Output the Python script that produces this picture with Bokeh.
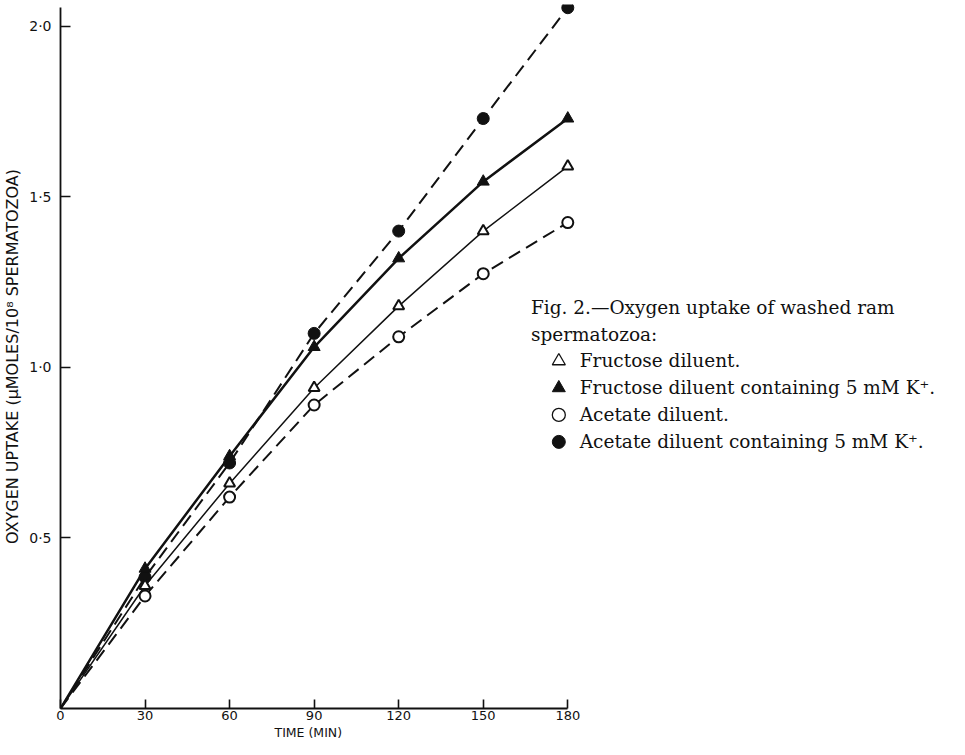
from bokeh.plotting import figure
from bokeh.models import Range1d, FixedTicker, Title
from bokeh.embed import file_html
from bokeh.resources import INLINE
from bokeh.core.properties import value

# ---- data ----
time_min = [0, 30, 60, 90, 120, 150, 180]
fructose = [0, 0.36, 0.66, 0.94, 1.18, 1.40, 1.59]
fructose_k = [0, 0.41, 0.74, 1.06, 1.32, 1.545, 1.73]
acetate = [0, 0.33, 0.62, 0.89, 1.09, 1.275, 1.425]
acetate_k = [0, 0.385, 0.72, 1.10, 1.40, 1.73, 2.055]

x_ticks = [0, 30, 60, 90, 120, 150, 180]
x_tick_labels = ["0", "30", "60", "90", "120", "150", "180"]
y_ticks = [0.5, 1.0, 1.5, 2.0]
y_tick_labels = ["0·5", "1·0", "1·5", "2·0"]

caption = ["Fig. 2.—Oxygen uptake of washed ram", "spermatozoa:"]
legend_labels = ["Fructose diluent.",
                 "Fructose diluent containing 5 mM K⁺.",
                 "Acetate diluent.",
                 "Acetate diluent containing 5 mM K⁺."]

# ---- layout (page pixel coordinates) ----
W, H = 949, 739
BOTTOM_BORDER = 30
X0_S = 65                     # screen x of the origin
Y0_S = 8 + H - BOTTOM_BORDER  # screen y of the origin
X180_S = 574                  # screen x of 180 min
Y2_S = 34                     # screen y of 2.0
PX_X = (X180_S - X0_S) / 180.0
PX_Y = (Y0_S - Y2_S) / 2.0
FRAME_TOP_S = 12
FRAME_RIGHT_S = 8 + W

x_end = (FRAME_RIGHT_S - X0_S) / PX_X
y_end = (Y0_S - FRAME_TOP_S) / PX_Y

def dx(sx):
    return (sx - X0_S) / PX_X

def dy(sy):
    return (Y0_S - sy) / PX_Y

p = figure(width=W, height=H, output_backend="svg", toolbar_location=None,
           x_range=Range1d(0, x_end), y_range=Range1d(0, y_end),
           min_border_left=X0_S - 8, min_border_top=FRAME_TOP_S - 8,
           min_border_right=0, min_border_bottom=BOTTOM_BORDER)
p.outline_line_color = None
p.grid.visible = False
p.background_fill_color = "white"

ink = "#111111"

for ax in (p.xaxis[0], p.yaxis[0]):
    ax.axis_line_color = ink
    ax.axis_line_width = 1.8
    ax.major_tick_line_color = ink
    ax.major_tick_line_width = 1.6
    ax.minor_tick_line_color = None
    ax.major_tick_out = 0
    ax.major_label_text_font = "DejaVu Sans"
    ax.major_label_text_color = ink
    ax.axis_label_text_font = "DejaVu Sans"
    ax.axis_label_text_font_style = "normal"
    ax.axis_label_text_color = ink

p.xaxis[0].ticker = FixedTicker(ticks=x_ticks)
p.xaxis[0].major_label_overrides = dict(zip(x_ticks, x_tick_labels))
p.xaxis[0].bounds = (0, 180)
p.xaxis[0].major_tick_in = 9
p.xaxis[0].major_label_standoff = 2
p.xaxis[0].major_label_text_font_size = "13px"

p.yaxis[0].ticker = FixedTicker(ticks=y_ticks)
p.yaxis[0].major_label_overrides = dict(zip(y_ticks, y_tick_labels))
p.yaxis[0].bounds = (0, 2.055)
p.yaxis[0].major_tick_in = 10
p.yaxis[0].major_label_standoff = 9
p.yaxis[0].major_label_text_font_size = "14px"
p.yaxis[0].major_label_orientation = "horizontal"
p.yaxis[0].axis_label = "OXYGEN UPTAKE (μMOLES/10⁸ SPERMATOZOA)"
p.yaxis[0].axis_label_text_font_size = "16px"
p.yaxis[0].axis_label_standoff = 4

p.add_layout(Title(text="TIME (MIN)", align="left", offset=214, standoff=0,
                   text_font="DejaVu Sans", text_font_size="12.5px",
                   text_font_style="normal", text_color=ink), "below")

# ---- series ----
p.line(time_min, acetate_k, line_color=ink, line_width=2.0, line_dash="13 7")
p.line(time_min, acetate, line_color=ink, line_width=2.0, line_dash="13 7")
p.line(time_min, fructose_k, line_color=ink, line_width=2.5)
p.line(time_min, fructose, line_color=ink, line_width=1.5)

p.scatter(time_min[1:], acetate_k[1:], marker="circle", size=12,
          fill_color=ink, line_color=ink)
p.scatter(time_min[1:], acetate[1:], marker="circle", size=11,
          fill_color="white", line_color=ink, line_width=2.0)
p.scatter(time_min[1:], fructose_k[1:], marker="triangle", size=12,
          fill_color=ink, line_color=ink)
p.scatter(time_min[1:], fructose[1:], marker="triangle", size=11,
          fill_color="white", line_color=ink, line_width=2.0)

# ---- caption / legend ----
serif = value("DejaVu Serif")
FS = "18.5px"
CAP_X = 537
line_y = [315, 342, 369, 396, 423, 450]
p.text(x=[dx(CAP_X)] * 2, y=[dy(line_y[0]), dy(line_y[1])], text=caption,
       text_font=serif, text_font_size=FS, text_color=ink,
       text_baseline="middle", text_align="left")

MARK_X, ITEM_X = 565, 586
item_y = line_y[2:]
p.text(x=[dx(ITEM_X)] * 4, y=[dy(v) for v in item_y], text=legend_labels,
       text_font=serif, text_font_size=FS, text_color=ink,
       text_baseline="middle", text_align="left")
p.scatter([dx(MARK_X)], [dy(item_y[0])], marker="triangle", size=13,
          fill_color="white", line_color=ink, line_width=1.3)
p.scatter([dx(MARK_X)], [dy(item_y[1])], marker="triangle", size=13,
          fill_color=ink, line_color=ink)
p.scatter([dx(MARK_X)], [dy(item_y[2])], marker="circle", size=13,
          fill_color="white", line_color=ink, line_width=1.3)
p.scatter([dx(MARK_X)], [dy(item_y[3])], marker="circle", size=13,
          fill_color=ink, line_color=ink)

open("out.html", "w").write(file_html(p, INLINE))
